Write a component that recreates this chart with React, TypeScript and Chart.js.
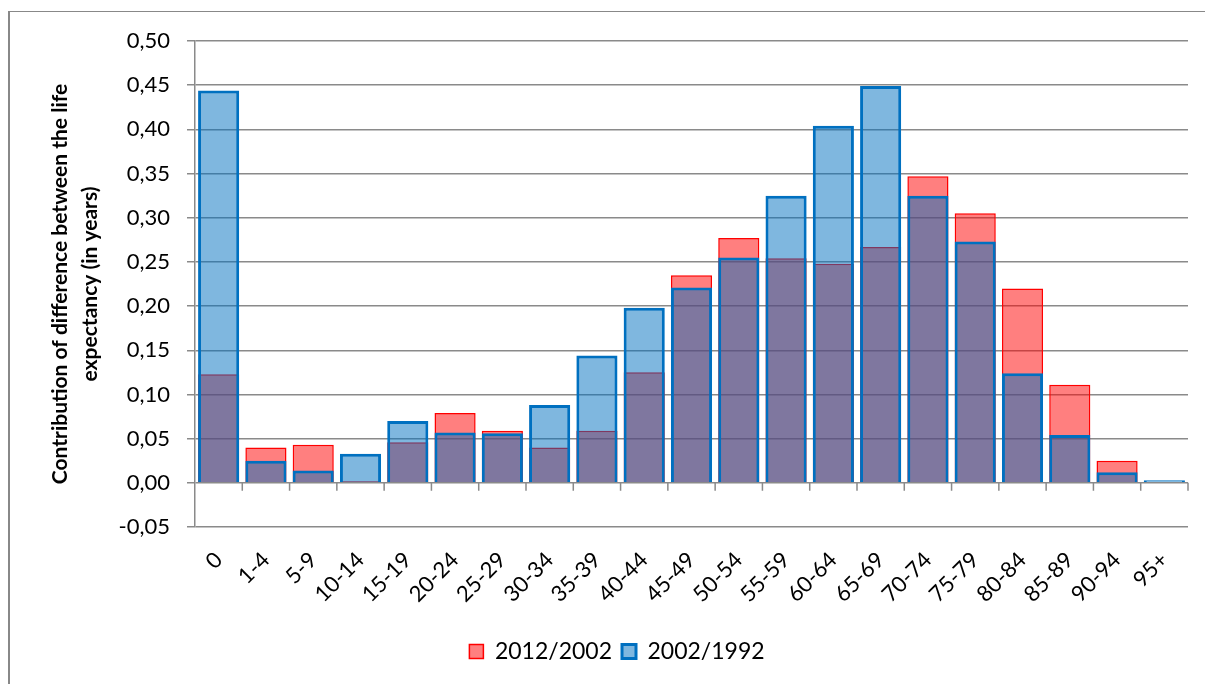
import React, { useEffect, useRef } from "react";
import { Chart, registerables } from "chart.js";

Chart.register(...registerables);

const categories = ["0", "1-4", "5-9", "10-14", "15-19", "20-24", "25-29", "30-34", "35-39", "40-44", "45-49", "50-54", "55-59", "60-64", "65-69", "70-74", "75-79", "80-84", "85-89", "90-94", "95+"];
const series2012_2002 = [0.123, 0.040, 0.043, 0.002, 0.046, 0.079, 0.059, 0.040, 0.059, 0.125, 0.235, 0.277, 0.254, 0.248, 0.267, 0.347, 0.305, 0.220, 0.111, 0.025, 0.0];
const series2002_1992 = [0.444, 0.025, 0.014, 0.033, 0.070, 0.057, 0.056, 0.088, 0.144, 0.198, 0.221, 0.255, 0.325, 0.404, 0.449, 0.325, 0.273, 0.124, 0.054, 0.012, 0.003];
const seriesNames = ["2012/2002", "2002/1992"];
const yTitle = ["Contribution of difference between the life", "expectancy (in years)"];
const yMin = -0.05;
const yMax = 0.5;
const yStep = 0.05;

const FONT = "Lato, 'Open Sans', sans-serif";
const GRID = "#8a8a8a";

const zeroTicks = {
  id: "zeroTicks",
  afterDraw(chart: any) {
    const x = chart.scales.x;
    const y = chart.scales.y;
    const ctx = chart.ctx;
    const y0 = y.getPixelForValue(0);
    const n = categories.length;
    const w = (x.right - x.left) / n;
    ctx.save();
    ctx.strokeStyle = GRID;
    ctx.lineWidth = 1.5;
    ctx.beginPath();
    for (let i = 1; i <= n; i++) {
      const px = x.left + i * w;
      ctx.moveTo(px, y0);
      ctx.lineTo(px, y0 + 8);
    }
    ctx.stroke();
    ctx.restore();
  },
};

export default function App() {
  const ref = useRef<HTMLCanvasElement | null>(null);
  useEffect(() => {
    if (!ref.current) return;
    const chart = new Chart(ref.current, {
      type: "bar",
      data: {
        labels: categories,
        datasets: [
          {
            label: seriesNames[0],
            data: series2012_2002,
            backgroundColor: "rgba(255,0,0,0.5)",
            borderColor: "#ff0000",
            borderWidth: 1.5,
            grouped: false,
            order: 2,
            barPercentage: 0.87,
            categoryPercentage: 1,
          } as any,
          {
            label: seriesNames[1],
            data: series2002_1992,
            backgroundColor: "rgba(0,112,192,0.5)",
            borderColor: "#0070c0",
            borderWidth: 3,
            grouped: false,
            order: 1,
            barPercentage: 0.87,
            categoryPercentage: 1,
          } as any,
        ],
      },
      options: {
        animation: false,
        responsive: false,
        maintainAspectRatio: false,
        layout: { padding: { left: 46, right: 17, top: 41, bottom: 11 } },
        plugins: {
          tooltip: { enabled: false },
          legend: {
            position: "bottom",
            labels: {
              font: { family: FONT, size: 23 },
              color: "#000",
              boxWidth: 14,
              boxHeight: 14,
              padding: 10,
              sort: (a: any, b: any) => a.datasetIndex - b.datasetIndex,
            },
          },
        },
        scales: {
          x: {
            grid: { display: false, drawTicks: false },
            border: { display: false },
            ticks: {
              font: { family: FONT, size: 22 },
              color: "#000",
              minRotation: 45,
              maxRotation: 45,
              padding: 20,
              autoSkip: false,
            },
            afterFit(scale: any) {
              scale.height = 103;
            },
          },
          y: {
            min: yMin,
            max: yMax,
            ticks: {
              stepSize: yStep,
              font: { family: FONT, size: 22 },
              color: "#000",
              padding: 17,
              callback: (v: any) => Number(v).toFixed(2).replace(".", ","),
            },
            grid: { color: GRID, lineWidth: 1.5, tickLength: 8 },
            border: { color: GRID, width: 1.5 },
            title: {
              display: true,
              text: yTitle,
              color: "#000",
              font: { family: FONT, size: 21, weight: "bold", lineHeight: 1.4 },
              padding: { top: 0, bottom: 0 },
            },
            afterFit(scale: any) {
              scale.width = 149;
            },
          },
        },
      },
      plugins: [zeroTicks],
    });
    return () => chart.destroy();
  }, []);

  return (
    <div style={{ position: "fixed", left: 0, top: 0, width: 1205, height: 684, background: "#fff", overflow: "hidden" }}>
      <div
        style={{
          position: "absolute",
          left: 8,
          top: 11,
          width: 1400,
          height: 900,
          borderLeft: "2px solid #888",
          borderTop: "1.5px solid #888",
        }}
      />
      <canvas ref={ref} width={1205} height={684} style={{ position: "absolute", left: 0, top: 0, width: 1205, height: 684 }} />
    </div>
  );
}
